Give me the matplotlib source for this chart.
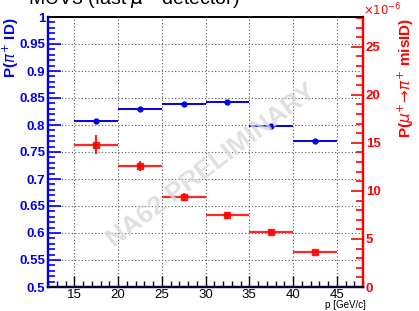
import matplotlib
matplotlib.use("Agg")
import matplotlib.pyplot as plt
from matplotlib.ticker import MultipleLocator, FuncFormatter

plt.rcParams['font.family'] = ['Liberation Sans', 'DejaVu Sans']

# Data
bin_lo = [15, 20, 25, 30, 35, 40]
bin_hi = [20, 25, 30, 35, 40, 45]
pi_id = [0.807, 0.830, 0.838, 0.842, 0.799, 0.771]
pi_id_err = [0.002, 0.002, 0.002, 0.002, 0.002, 0.002]
mu_misid = [14.8, 12.6, 9.4, 7.5, 5.7, 3.65]   # x 1e-6
mu_misid_err = [1.0, 0.55, 0.4, 0.3, 0.3, 0.2]

xc = [(a + b) / 2 for a, b in zip(bin_lo, bin_hi)]
xerr = [(b - a) / 2 for a, b in zip(bin_lo, bin_hi)]

W, H = 419, 311
fig = plt.figure(figsize=(W / 100, H / 100), dpi=100)
ax = fig.add_axes([48 / W, 1 - 287 / H, (363 - 48) / W, (287 - 17) / H])
ax2 = ax.twinx()

ax.set_xlim(12, 48)
ax.set_ylim(0.5, 1.0)
ax2.set_ylim(0, 28.1)

blue = '#0000ee'
red = '#ff0000'

ax.grid(True, which='major', color='#555555', linestyle=(0, (1, 2)), linewidth=0.8)
ax.set_axisbelow(True)

ax.errorbar(xc, pi_id, xerr=xerr, yerr=pi_id_err, fmt='o', color=blue,
            ms=3.5, lw=1.4, capsize=0, zorder=3)
ax2.errorbar(xc, mu_misid, xerr=xerr, yerr=mu_misid_err, fmt='s', color=red,
             ms=5, lw=1.6, capsize=0, zorder=3, alpha=0.85)

# ticks
ax.xaxis.set_major_locator(MultipleLocator(5))
ax.xaxis.set_minor_locator(MultipleLocator(1))
ax.yaxis.set_major_locator(MultipleLocator(0.05))
ax.yaxis.set_minor_locator(MultipleLocator(0.01))
ax2.yaxis.set_major_locator(MultipleLocator(5))
ax2.yaxis.set_minor_locator(MultipleLocator(1))

ax.tick_params(axis='x', which='both', direction='in', top=False, bottom=True,
               labelsize=9.5, pad=1.5, color='black')
ax.tick_params(axis='x', which='major', length=8, width=1)
ax.tick_params(axis='x', which='minor', length=4, width=1)
ax.tick_params(axis='y', which='both', direction='in', right=False, left=True,
               color=blue, labelcolor=blue, labelsize=9.5, pad=2, width=1.2)
ax.tick_params(axis='y', which='major', length=9)
ax.tick_params(axis='y', which='minor', length=5)
ax2.tick_params(axis='y', which='both', direction='in', right=True, left=False,
                color=red, labelcolor=red, labelsize=9.5, pad=2, width=1.2)
ax2.tick_params(axis='y', which='major', length=9)
ax2.tick_params(axis='y', which='minor', length=5)

ax.yaxis.set_major_formatter(FuncFormatter(lambda v, p: ('%g' % round(v, 2))))
ax2.yaxis.set_major_formatter(FuncFormatter(lambda v, p: '%d' % round(v)))
for lab in ax.get_yticklabels() + ax2.get_yticklabels():
    lab.set_fontweight('bold')

for a in (ax, ax2):
    a.spines['left'].set_color(blue)
    a.spines['left'].set_linewidth(1.6)
    a.spines['right'].set_color(red)
    a.spines['right'].set_linewidth(1.6)
    a.spines['bottom'].set_color('#000033')
    a.spines['bottom'].set_linewidth(1.6)
    a.spines['top'].set_color('black')
    a.spines['top'].set_linewidth(1.2)

# labels
fig.text(11 / W, 1 - 18 / H, r'P($\pi^{+}$ ID)', color=blue, fontsize=11, fontweight='bold',
         rotation=90, ha='center', va='top')
fig.text(406 / W, 1 - 18 / H, r'P($\mu^{+}\!\rightarrow\!\pi^{+}$ misID)', color=red, fontsize=11,
         fontweight='bold', rotation=90, ha='center', va='top')
fig.text(363 / W, 1 - 18 / H, r'$\times10^{-6}$', color=red, fontsize=8.5, ha='left', va='bottom')
fig.text(366 / W, 0.5 / H, 'p [GeV/c]', color='black', fontsize=7, ha='right', va='bottom')

# cut-off title
fig.text(28 / W, 1 + 1 / H, r'MUV3 (fast $\mu^{+}$ detector)', color='black', fontsize=14,
         ha='left', va='center')

# watermark
fig.text(212 / W, 1 - 166 / H, 'NA62 PRELIMINARY', color='#d8d8d8', fontsize=19,
         fontweight='bold', rotation=37, ha='center', va='center', zorder=0, alpha=0.8)

fig.savefig('out.png', dpi=100)
